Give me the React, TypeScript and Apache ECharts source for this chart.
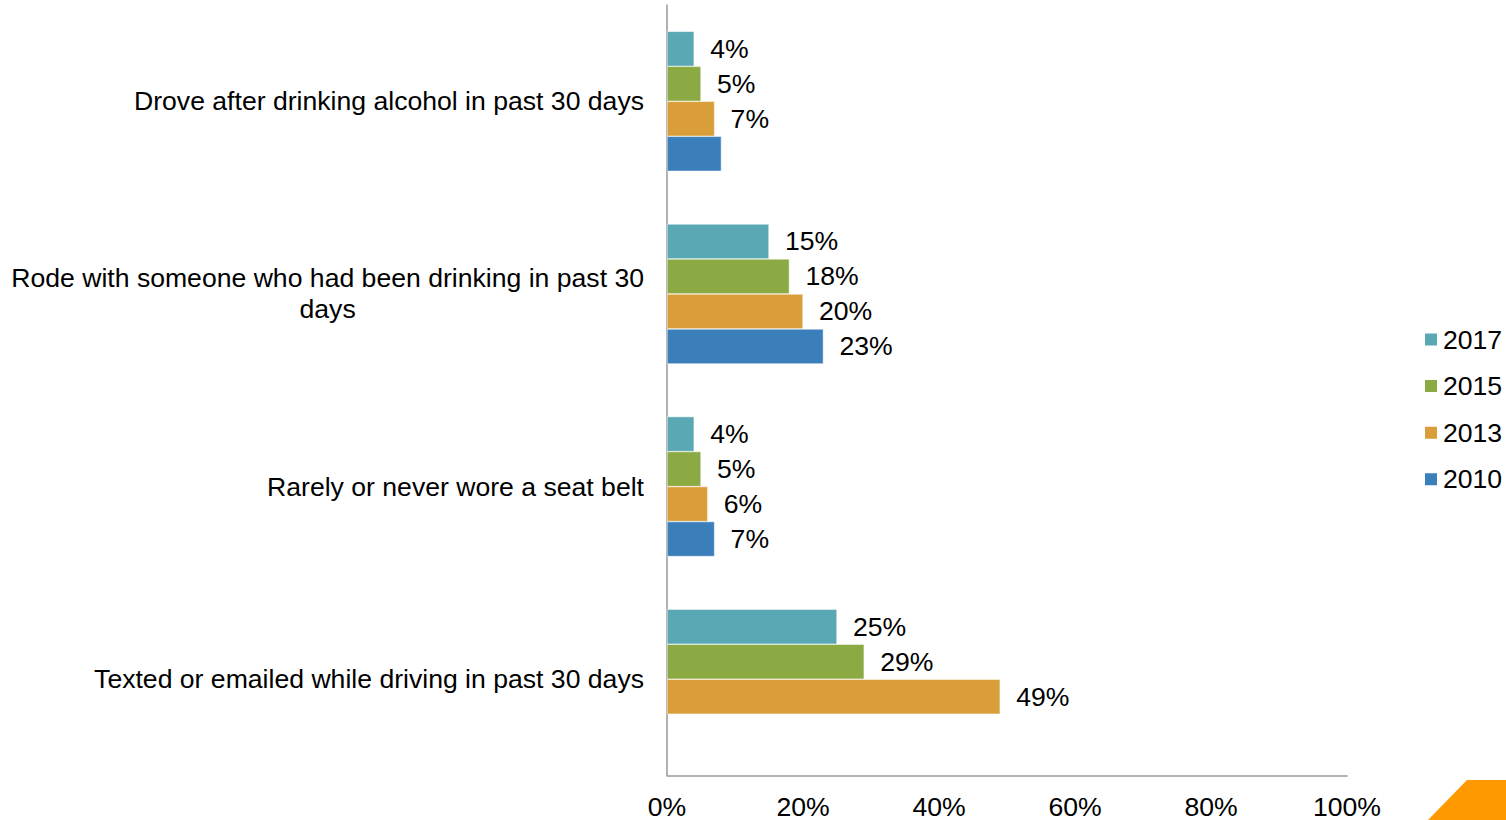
import React, { useEffect, useRef } from "react";
import * as echarts from "echarts";

const categories = [
  "Drove after drinking alcohol in past 30 days",
  "Rode with someone who had been drinking in past 30\ndays",
  "Rarely or never wore a seat belt",
  "Texted or emailed while driving in past 30 days",
];
const years = ["2017", "2015", "2013", "2010"];
const values2017 = [4, 15, 4, 25];
const values2015 = [5, 18, 5, 29];
const values2013 = [7, 20, 6, 49];
const values2010: (number | null)[] = [8, 23, 7, null];
const labelShown2010 = [false, true, true, true];
const xTicks = [0, 20, 40, 60, 80, 100];

const colors = ["#5BA8B5", "#8BAA44", "#D99E39", "#3B7FBA"];
const FONT = "'Liberation Sans', Arial, sans-serif";
const FS = 26.6;

export default function App() {
  const ref = useRef<HTMLDivElement>(null);
  useEffect(() => {
    document.body.style.margin = "0";
    if (!ref.current) return;
    const chart = echarts.init(ref.current, null, { renderer: "svg" });
    const seriesValues = [values2017, values2015, values2013, values2010];
    const labelStyle = {
      show: true,
      position: "right" as const,
      distance: 16,
      fontSize: FS,
      fontFamily: FONT,
      color: "#000",
      formatter: (p: any) => `${p.value}%`,
    };
    chart.setOption({
      animation: false,
      color: colors,
      textStyle: { fontFamily: FONT },
      grid: { left: 667, right: 159, top: 5, bottom: 44 },
      legend: {
        orient: "vertical",
        left: 1423,
        top: 326,
        padding: 0,
        itemWidth: 14,
        itemHeight: 14,
        itemGap: 19.6,
        icon: "rect",
        data: years,
        textStyle: { fontSize: FS, fontFamily: FONT, color: "#000", padding: [0, 0, 0, 0] },
      },
      xAxis: {
        type: "value",
        min: xTicks[0],
        max: xTicks[xTicks.length - 1],
        interval: 20,
        splitLine: { show: false },
        axisLine: { show: true, lineStyle: { color: "#999", width: 1.5 } },
        axisTick: { show: false },
        axisLabel: {
          fontSize: FS,
          fontFamily: FONT,
          color: "#000",
          margin: 20,
          lineHeight: 22,
          formatter: "{value}%",
        },
      },
      yAxis: {
        type: "category",
        inverse: true,
        data: categories,
        axisLine: { show: true, lineStyle: { color: "#999", width: 1.5 } },
        axisTick: { show: false },
        axisLabel: {
          margin: 23,
          formatter: (v: string) => {
            const lines = v.split("\n");
            return lines.map((l, i) => (i === 0 ? `{a|${l}}` : `{b|${l}}`)).join("\n");
          },
          rich: {
            a: { fontSize: FS, fontFamily: FONT, color: "#000", lineHeight: 31, align: "right" },
            b: { fontSize: FS, fontFamily: FONT, color: "#000", lineHeight: 31, align: "center" },
          },
        },
      },
      series: years.map((y, si) => ({
        name: y,
        type: "bar",
        barWidth: 35,
        barGap: "0%",
        label: labelStyle,
        itemStyle: { borderColor: "#fff", borderWidth: 0.5 },
        data: seriesValues[si].map((v, i) =>
          si === 3 && !labelShown2010[i] ? { value: v, label: { show: false } } : v
        ),
      })),
      graphic: [
        {
          type: "polygon",
          shape: { points: [[1428, 820], [1467, 780], [1506, 780], [1506, 820]] },
          style: { fill: "#FF9900" },
        },
      ],
    });
    return () => chart.dispose();
  }, []);
  return <div ref={ref} style={{ width: 1506, height: 820 }} />;
}
